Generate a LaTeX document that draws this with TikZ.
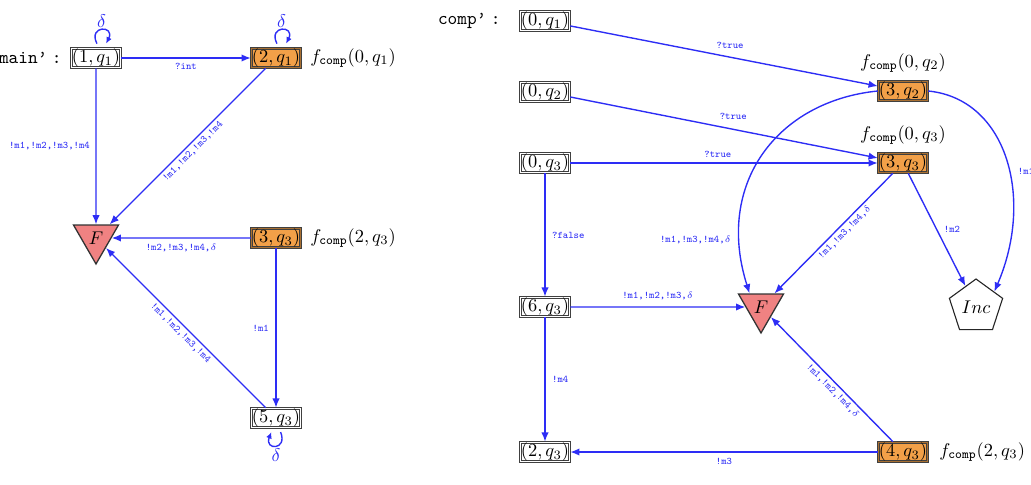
\documentclass[tikz,border=0pt]{standalone}
\usetikzlibrary{arrows.meta,shapes.geometric}
\definecolor{eblue}{RGB}{45,45,245}
\definecolor{ofill}{RGB}{242,160,72}
\definecolor{ffill}{RGB}{240,130,130}
\begin{document}
\begin{tikzpicture}[x=0.543pt,y=-0.543pt,
  st/.style={draw=black!75, double=white, double distance=0.45pt, line width=0.65pt, inner sep=0.3pt, fill=white},
  ost/.style={st, double=ofill!70!black, fill=ofill},
  fin/.style={regular polygon, regular polygon sides=3, shape border rotate=180, draw=black!80, line width=0.7pt, fill=ffill, minimum size=28.2pt, inner sep=0pt},
  incs/.style={regular polygon, regular polygon sides=5, draw=black!85, line width=0.6pt, fill=white, minimum size=30.4pt, inner sep=0pt},
  arr/.style={draw=eblue, line width=0.75pt, -{Latex[length=5pt,width=4pt]}},
  larr/.style={draw=eblue, line width=0.75pt, -{Latex[length=3.5pt,width=3.2pt]}},
  lbl/.style={font=\fontsize{5.5}{6}\selectfont\ttfamily, text=eblue, inner sep=1.5pt},
  dl/.style={text=eblue, inner sep=1pt},
  fc/.style={inner sep=0pt}
]
\useasboundingbox (0,0) rectangle (1031,485);

% ---------- left automaton ----------
\node[anchor=east, inner sep=0pt, font=\ttfamily] (mainl) at (62,58) {main’\hspace{0.25em}:};
\node[st] (a1) at (96,58) {$(1,q_1)$};
\node[ost] (a2) at (276,58) {$(2,q_1)$};
\node[fc, anchor=west] (fa2) at (310,58) {$f_{\mathtt{comp}}(0,q_1)$};
\node[fin] (F1) at (96,238) {$F$};
\node[ost] (a3) at (276,238) {$(3,q_3)$};
\node[fc, anchor=west] (fa3) at (310,238) {$f_{\mathtt{comp}}(2,q_3)$};
\node[st] (a5) at (276,418) {$(5,q_3)$};

\draw[arr] (a1) -- node[lbl, below=1pt] {?int} (a2);
\draw[arr] (a1) -- node[lbl, left=1.5pt] {!m1,!m2,!m3,!m4} (F1);
\draw[arr] (a2) -- node[lbl, sloped, below] {!m1,!m2,!m3,!m4} (F1);
\draw[arr] (a3) -- node[lbl, below=1.5pt] {!m2,!m3,!m4,$\delta$} (F1);
\draw[arr] (a3) -- node[lbl, left=2pt] {!m1} (a5);
\draw[arr] (a5) -- node[lbl, sloped, below] {!m1,!m2,!m3,!m4} (F1);

\draw[larr] ([xshift=0.5pt,yshift=2.2pt]a1.north) .. controls +(-5pt,10pt) and +(5pt,10pt) .. node[dl, above] {$\delta$} ([xshift=5.5pt,yshift=2.2pt]a1.north);
\draw[larr] ([xshift=0.5pt,yshift=2.2pt]a2.north) .. controls +(-5pt,10pt) and +(5pt,10pt) .. node[dl, above] {$\delta$} ([xshift=5.5pt,yshift=2.2pt]a2.north);
\draw[larr] ([xshift=2.5pt,yshift=-2pt]a5.south) .. controls +(4pt,-10pt) and +(-4pt,-10pt) .. node[dl, below] {$\delta$} ([xshift=-2.5pt,yshift=-2pt]a5.south);

% ---------- right automaton ----------
\node[anchor=east, inner sep=0pt, font=\ttfamily] (compl) at (501,21) {comp’\hspace{0.25em}:};
\node[st] (b1) at (545,21) {$(0,q_1)$};
\node[st] (b2) at (545,92) {$(0,q_2)$};
\node[st] (b3) at (545,163) {$(0,q_3)$};
\node[st] (b6) at (545,307) {$(6,q_3)$};
\node[st] (b7) at (545,452) {$(2,q_3)$};
\node[ost] (c2) at (903,91) {$(3,q_2)$};
\node[fc] (fc2) at (903,63) {$f_{\mathtt{comp}}(0,q_2)$};
\node[ost] (c3) at (903,163) {$(3,q_3)$};
\node[fc] (fc3) at (903,135) {$f_{\mathtt{comp}}(0,q_3)$};
\node[fin] (F2) at (761,307) {$F$};
\node[incs] (I) at (976,307) {$Inc$};
\node[ost] (c4) at (903,452) {$(4,q_3)$};
\node[fc, anchor=west] (fc4) at (939,452) {$f_{\mathtt{comp}}(2,q_3)$};

\draw[arr] (b1) -- node[lbl, above=3pt, pos=0.52] {?true} (c2);
\draw[arr] (b2) -- node[lbl, above=3.5pt, pos=0.53] {?true} (c3);
\draw[arr] (b3) -- node[lbl, above=1pt, pos=0.48] {?true} (c3);
\draw[arr] (b3) -- node[lbl, right=2pt] {?false} (b6);
\draw[arr] (b6) -- node[lbl, above=2pt] {!m1,!m2,!m3,$\delta$} (F2);
\draw[arr] (b6) -- node[lbl, right=2pt] {!m4} (b7);
\draw[arr] (c4) -- node[lbl, below=1.5pt] {!m3} (b7);
\draw[arr] (c4) -- node[lbl, sloped, below, pos=0.45] {!m1,!m2,!m4,$\delta$} (F2);
\draw[arr] (c3) -- node[lbl, sloped, below, pos=0.45] {!m1,!m3,!m4,$\delta$} (F2);
\draw[arr] (c3) -- node[lbl, right=2pt] {!m2} (I);
\draw[arr] (c2.west) .. controls +(-100,10) and +(-35,-110) .. node[lbl, left=3pt, pos=0.83] {!m1,!m3,!m4,$\delta$} (F2.130);
\draw[arr] (c2.east) .. controls +(79,8) and +(40,-93) .. node[lbl, right=3pt, pos=0.55] {!m1} (I.40);
\end{tikzpicture}
\end{document}
